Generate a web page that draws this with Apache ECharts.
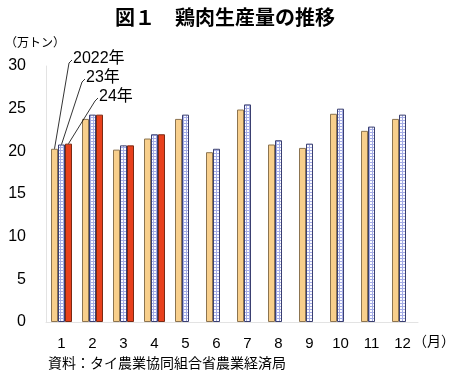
<!DOCTYPE html>
<html><head><meta charset="utf-8">
<script src="https://cdn.jsdelivr.net/npm/echarts@6/dist/echarts.min.js"></script>
<style>html,body{margin:0;padding:0;background:#fff}#c{width:450px;height:379px}</style>
</head><body><div id="c"></div>
<script>
const months = ['1','2','3','4','5','6','7','8','9','10','11','12'];
const y2022 = [20.3, 23.8, 20.2, 21.5, 23.8, 19.9, 24.9, 20.8, 20.4, 24.4, 22.4, 23.8];
const y2023 = [20.8, 24.3, 20.7, 22.0, 24.3, 20.3, 25.5, 21.3, 20.9, 25.0, 22.9, 24.3];
const y2024 = [20.9, 24.3, 20.7, 22.0, null, null, null, null, null, null, null, null];
const seriesNames = ['2022年', '23年', '24年'];
const yTicks = [0, 5, 10, 15, 20, 25, 30];

const pc = document.createElement('canvas');
pc.width = 3; pc.height = 3;
const g = pc.getContext('2d');
g.fillStyle = '#fbfbff'; g.fillRect(0,0,3,3);
g.fillStyle = '#a4ace6'; g.fillRect(0,0,3,1); g.fillRect(0,0,1,3);

const font = '"Liberation Sans", Arial, "Noto Sans CJK JP", sans-serif';
const jp = '"Noto Sans CJK JP", sans-serif';
const chart = echarts.init(document.getElementById('c'), null, {renderer:'canvas'});
const option = {
  animation: false,
  backgroundColor: '#fff',
  title: {text: '図１　鶏肉生産量の推移', left: 'center', top: 2,
    textStyle: {fontFamily: jp, fontSize: 20, fontWeight: 'bold', color: '#000'}},
  grid: {left: 46, right: 32, top: 66, bottom: 57},
  xAxis: {type: 'category', data: months,
    axisLine: {show: true, lineStyle: {color: '#e3e3e3'}},
    axisTick: {show: false},
    axisLabel: {fontFamily: font, fontSize: 15, color: '#000', margin: 14}},
  yAxis: {type: 'value', min: 0, max: 30, interval: 5,
    axisLine: {show: true, lineStyle: {color: '#e3e3e3'}},
    axisTick: {show: false}, splitLine: {show: false},
    axisLabel: {fontFamily: font, fontSize: 16, color: '#000', margin: 20,
      formatter: v => yTicks.includes(v) ? String(v) : ''}},
  series: [
    {name: seriesNames[0], type: 'bar', data: y2022, barWidth: 7, barGap: '0%',
      itemStyle: {color: '#f8cf8c', borderColor: '#8c7450', borderWidth: 1}},
    {name: seriesNames[1], type: 'bar', data: y2023, barWidth: 7, barGap: '0%',
      itemStyle: {color: {image: pc, repeat: 'repeat'}, borderColor: '#3a3f70', borderWidth: 1}},
    {name: seriesNames[2], type: 'bar', data: y2024, barWidth: 7, barGap: '0%',
      itemStyle: {color: '#e8401c', borderColor: '#7a2a14', borderWidth: 1}}
  ]
};
chart.setOption(option);

const cx = chart.convertToPixel({xAxisIndex: 0}, months[0]);
const offs = [-7, 0, 7];
const labelPos = [[73, 60], [86, 79], [99, 98]];
const vals = [y2022[0], y2023[0], y2024[0]];
const gr = [];
for (let i = 0; i < 3; i++) {
  const bx = cx + offs[i];
  const by = chart.convertToPixel({yAxisIndex: 0}, vals[i]);
  const [lx, ly] = labelPos[i];
  gr.push({type: 'polyline', silent: true, z: 100,
    shape: {points: [[bx, by], [lx - 4, ly + 3], [lx - 1, ly]]},
    style: {stroke: '#000', lineWidth: 0.8, fill: null}});
  gr.push({type: 'text', left: lx, top: ly - 9, z: 100,
    style: {text: seriesNames[i], font: '16px ' + font, fill: '#000'}});
}
gr.push({type: 'text', left: 5, top: 36, style: {text: '（万トン）', font: '12px ' + jp, fill: '#000'}});
gr.push({type: 'text', left: 413, top: 334, style: {text: '（月）', font: '14px ' + jp, fill: '#000'}});
gr.push({type: 'text', left: 48, top: 356, style: {text: '資料：タイ農業協同組合省農業経済局', font: '14px ' + jp, fill: '#000'}});
chart.setOption({graphic: gr});
</script></body></html>
